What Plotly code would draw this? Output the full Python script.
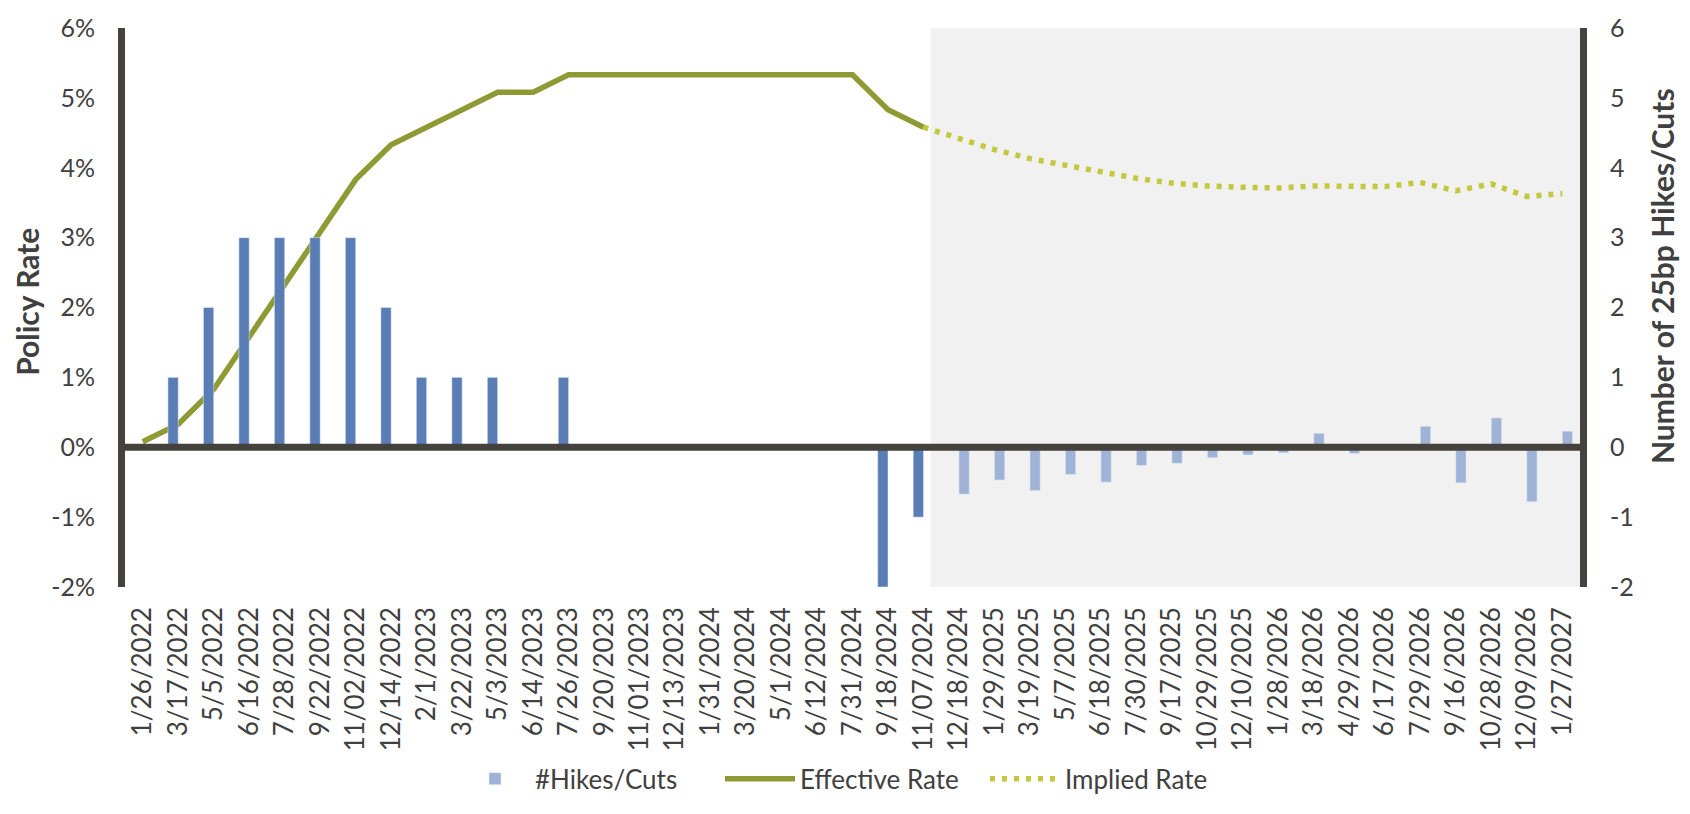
import plotly.graph_objects as go

dates = ["1/26/2022","3/17/2022","5/5/2022","6/16/2022","7/28/2022","9/22/2022","11/02/2022",
         "12/14/2022","2/1/2023","3/22/2023","5/3/2023","6/14/2023","7/26/2023","9/20/2023",
         "11/01/2023","12/13/2023","1/31/2024","3/20/2024","5/1/2024","6/12/2024","7/31/2024",
         "9/18/2024","11/07/2024","12/18/2024","1/29/2025","3/19/2025","5/7/2025","6/18/2025",
         "7/30/2025","9/17/2025","10/29/2025","12/10/2025","1/28/2026","3/18/2026","4/29/2026",
         "6/17/2026","7/29/2026","9/16/2026","10/28/2026","12/09/2026","1/27/2027"]

# historical hikes/cuts (count of 25bp moves)
hist_moves = [0, 1, 2, 3, 3, 3, 3, 2, 1, 1, 1, 0, 1, 0, 0, 0, 0, 0, 0, 0, 0, -2, -1] + [None]*18
# market-implied hikes/cuts
implied_moves = [None]*23 + [-0.67, -0.47, -0.62, -0.39, -0.50, -0.26, -0.23, -0.15, -0.11,
                             -0.08, 0.20, -0.09, 0.0, 0.30, -0.51, 0.42, -0.78, 0.23]
# effective policy rate (%)
effective_rate = [0.08, 0.33, 0.83, 1.58, 2.33, 3.08, 3.83, 4.33, 4.58, 4.83, 5.08, 5.08, 5.33,
                  5.33, 5.33, 5.33, 5.33, 5.33, 5.33, 5.33, 5.33, 4.83, 4.58] + [None]*18
# implied policy rate (%)
implied_rate = [None]*22 + [4.58, 4.41, 4.26, 4.13, 4.03, 3.95, 3.85, 3.78, 3.74, 3.72, 3.71,
                            3.74, 3.73, 3.73, 3.79, 3.67, 3.77, 3.59, 3.63]

y_ticks = [-2, -1, 0, 1, 2, 3, 4, 5, 6]
left_labels = ["-2%", "-1%", "0%", "1%", "2%", "3%", "4%", "5%", "6%"]
right_labels = ["-2", "-1", "0", "1", "2", "3", "4", "5", "6"]

AX = "#45423D"
TXT = "#404040"
FONT = "Lato"

fig = go.Figure()
fig.add_trace(go.Bar(x=dates, y=hist_moves, yaxis="y2", marker=dict(color="#5B7DB6"),
                     name="#Hikes/Cuts (hist)", showlegend=False))
fig.add_trace(go.Bar(x=dates, y=implied_moves, yaxis="y2", marker=dict(color="#A0B3D7"),
                     name="#Hikes/Cuts"))
fig.add_trace(go.Scatter(x=dates, y=effective_rate, mode="lines", name="Effective Rate",
                         line=dict(color="#8E9A34", width=5.5)))
fig.add_trace(go.Scatter(x=dates, y=implied_rate, mode="lines", name="Implied Rate",
                         line=dict(color="#C3C83C", width=5.5, dash="5px,7px")))

fig.add_shape(type="rect", xref="x", yref="y", x0=22.2, x1=40.5, y0=-2, y1=6,
              fillcolor="#F1F1F1", line=dict(width=0), layer="below")
fig.add_shape(type="line", xref="paper", yref="y", x0=0, x1=1, y0=0, y1=0,
              line=dict(color=AX, width=7), layer="above")

fig.update_layout(
    width=1690, height=814,
    margin=dict(l=125, r=110, t=25, b=211),
    paper_bgcolor="white", plot_bgcolor="white",
    font=dict(family=FONT, color=TXT, size=25),
    barmode="group", bargap=0.42, bargroupgap=0,
    xaxis=dict(type="category", tickangle=-90, showgrid=False, showline=False, ticks="",
               tickfont=dict(size=26, color=TXT), range=[-0.5, 40.5],
               ticklabelstandoff=14),
    yaxis=dict(range=[-2, 6], tickmode="array", tickvals=y_ticks, ticktext=left_labels,
               showgrid=False, zeroline=False, showline=True, linewidth=7, linecolor=AX,
               ticks="", tickfont=dict(size=25, color=TXT), ticklabelstandoff=18),
    yaxis2=dict(range=[-2, 6], tickmode="array", tickvals=y_ticks, ticktext=right_labels,
                overlaying="y", side="right",
                showgrid=False, zeroline=False, showline=True, linewidth=7, linecolor=AX,
                ticks="", tickfont=dict(size=25, color=TXT), ticklabelstandoff=18),
    legend=dict(orientation="h", x=0.5, xanchor="center", y=-0.343, yanchor="middle",
                font=dict(size=26, color=TXT), itemwidth=70, traceorder="normal",
                entrywidth=180, entrywidthmode="pixels"),
    annotations=[
        dict(text="<b>Policy Rate</b>", xref="paper", yref="paper", x=-0.0674, y=0.51,
             textangle=-90, showarrow=False, font=dict(size=30, color=TXT),
             xanchor="center", yanchor="middle"),
        dict(text="<b>Number of 25bp Hikes/Cuts</b>", xref="paper", yref="paper",
             x=1.056, y=0.557, textangle=-90, showarrow=False,
             font=dict(size=30, color=TXT),
             xanchor="center", yanchor="middle"),
    ],
)

fig.write_html("out.html",
               config={"displayModeBar": False},
               post_script="document.body.style.margin='0px';"
                           "document.body.style.overflow='hidden';")
